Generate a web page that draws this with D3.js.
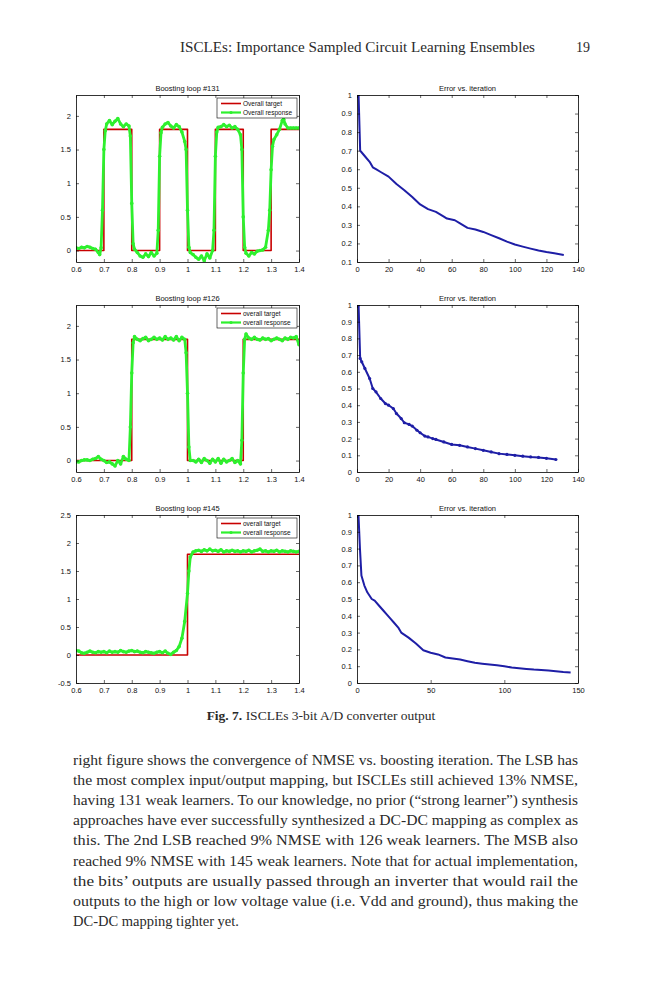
<!DOCTYPE html>
<html>
<head>
<meta charset="utf-8">
<script src="https://cdn.jsdelivr.net/npm/d3@7"></script>
<style>
  body { margin: 0; background: #fff; }
</style>
</head>
<body>
<div id="page"></div>
<script>
// ---- data ----

// targets: level starting at each edge (step after)
const lsbEdges = [0.6, 0.7, 0.8, 0.9, 1.0, 1.1, 1.2, 1.3, 1.4];
const lsbLevels = [0, 1.8, 0, 1.8, 0, 1.8, 0, 1.8, 1.8];
const lsb2Edges = [0.6, 0.8, 1.0, 1.2, 1.4];
const lsb2Levels = [0, 1.8, 0, 1.8, 1.8];
const msbEdges = [0.6, 1.0, 1.4];
const msbLevels = [0, 1.8, 1.8];

// overall response, loop #131 (LSB)
const resp131X = [0.60, 0.61, 0.62, 0.63, 0.64, 0.65, 0.66, 0.67, 0.68, 0.685, 0.69, 0.695, 0.70, 0.705, 0.71,
  0.72, 0.73, 0.74, 0.75, 0.76, 0.77, 0.78, 0.79, 0.795, 0.80, 0.805, 0.81, 0.82, 0.83, 0.84, 0.85, 0.86,
  0.87, 0.88, 0.89, 0.895, 0.90, 0.905, 0.91, 0.92, 0.93, 0.94, 0.95, 0.96, 0.97, 0.98, 0.99, 0.995, 1.00,
  1.005, 1.01, 1.02, 1.03, 1.04, 1.05, 1.06, 1.07, 1.08, 1.09, 1.095, 1.10, 1.105, 1.11, 1.12, 1.13, 1.14,
  1.15, 1.16, 1.17, 1.18, 1.19, 1.195, 1.20, 1.205, 1.21, 1.22, 1.23, 1.24, 1.25, 1.26, 1.27, 1.28, 1.29,
  1.295, 1.30, 1.305, 1.31, 1.32, 1.33, 1.34, 1.345, 1.35, 1.36, 1.37, 1.38, 1.39, 1.40];
const resp131Y = [0.04, 0.03, 0.05, 0.04, 0.06, 0.05, 0.03, 0.02, -0.03, -0.06, 0.04, 0.6, 1.5, 1.78, 1.88,
  1.93, 1.87, 1.92, 1.96, 1.88, 1.84, 1.88, 1.85, 1.7, 0.7, 0.1, 0.02, -0.03, -0.08, -0.1, -0.05, -0.09,
  -0.03, -0.08, -0.04, 0.3, 1.4, 1.75, 1.83, 1.88, 1.9, 1.85, 1.82, 1.87, 1.84, 1.76, 1.62, 1.5, 0.6,
  0.05, -0.03, -0.06, -0.1, -0.13, -0.08, -0.15, -0.05, -0.11, 0.0, 0.3, 1.4, 1.76, 1.83, 1.84, 1.87, 1.84,
  1.86, 1.82, 1.84, 1.8, 1.72, 1.5, 0.5, 0.05, -0.04, -0.08, -0.03, -0.05, -0.01, 0.0, 0.01, 0.05, 0.3,
  0.6, 1.2, 1.55, 1.65, 1.72, 1.8, 1.93, 1.95, 1.88, 1.82, 1.82, 1.82, 1.82, 1.82];

// overall response, loop #126 (2nd LSB)
const resp126X = [0.60, 0.61, 0.62, 0.63, 0.64, 0.65, 0.66, 0.67, 0.68, 0.69, 0.70, 0.71, 0.72, 0.73, 0.74,
  0.75, 0.76, 0.77, 0.78, 0.79, 0.795, 0.80, 0.805, 0.81, 0.82, 0.83, 0.84, 0.85, 0.86, 0.87, 0.88, 0.89,
  0.90, 0.91, 0.92, 0.93, 0.94, 0.95, 0.96, 0.97, 0.98, 0.99, 0.995, 1.00, 1.005, 1.01, 1.02, 1.03, 1.04,
  1.05, 1.06, 1.07, 1.08, 1.09, 1.10, 1.11, 1.12, 1.13, 1.14, 1.15, 1.16, 1.17, 1.18, 1.19, 1.195, 1.20,
  1.205, 1.21, 1.22, 1.23, 1.24, 1.25, 1.26, 1.27, 1.28, 1.29, 1.30, 1.31, 1.32, 1.33, 1.34, 1.35, 1.36,
  1.37, 1.38, 1.39, 1.40];
const resp126Y = [-0.02, -0.02, 0.0, 0.01, 0.01, 0.0, 0.02, 0.03, 0.06, 0.02, 0.0, -0.03, -0.02, -0.05, -0.08,
  0.0, -0.05, 0.06, 0.02, 0.0, 0.5, 1.3, 1.75, 1.84, 1.8, 1.78, 1.81, 1.83, 1.78, 1.8, 1.83, 1.8,
  1.82, 1.79, 1.84, 1.8, 1.82, 1.79, 1.84, 1.78, 1.83, 1.8, 1.6, 1.0, 0.2, 0.0, 0.0, -0.02, 0.02,
  -0.03, 0.03, 0.0, -0.04, 0.02, -0.02, 0.03, -0.04, 0.02, -0.02, 0.0, 0.03, -0.03, 0.0, -0.05, 0.3, 1.3,
  1.8, 1.88, 1.82, 1.8, 1.83, 1.8, 1.79, 1.82, 1.8, 1.81, 1.78, 1.8, 1.82, 1.8, 1.78, 1.82, 1.8,
  1.83, 1.82, 1.84, 1.72];

// overall response, loop #145 (MSB)
const resp145X = [0.60, 0.61, 0.62, 0.63, 0.64, 0.65, 0.66, 0.67, 0.68, 0.69, 0.70, 0.71, 0.72, 0.73, 0.74,
  0.75, 0.76, 0.77, 0.78, 0.79, 0.80, 0.81, 0.82, 0.83, 0.84, 0.85, 0.86, 0.87, 0.88, 0.89, 0.90, 0.91,
  0.92, 0.93, 0.94, 0.95, 0.96, 0.97, 0.98, 0.99, 1.00, 1.005, 1.01, 1.02, 1.03, 1.04, 1.05, 1.06, 1.07,
  1.08, 1.09, 1.10, 1.11, 1.12, 1.13, 1.14, 1.15, 1.16, 1.17, 1.18, 1.19, 1.20, 1.21, 1.22, 1.23, 1.24,
  1.25, 1.26, 1.27, 1.28, 1.29, 1.30, 1.31, 1.32, 1.33, 1.34, 1.35, 1.36, 1.37, 1.38, 1.39, 1.40];
const resp145Y = [0.08, 0.07, 0.04, 0.03, 0.05, 0.07, 0.05, 0.04, 0.06, 0.05, 0.06, 0.04, 0.07, 0.05, 0.06,
  0.05, 0.08, 0.06, 0.05, 0.07, 0.08, 0.06, 0.07, 0.05, 0.04, 0.06, 0.05, 0.04, 0.03, 0.05, 0.06, 0.04,
  0.07, 0.03, 0.01, 0.05, 0.08, 0.15, 0.3, 0.6, 1.1, 1.5, 1.75, 1.84, 1.86, 1.87, 1.85, 1.88, 1.86,
  1.89, 1.86, 1.87, 1.85, 1.88, 1.84, 1.86, 1.85, 1.87, 1.85, 1.86, 1.84, 1.86, 1.85, 1.87, 1.84, 1.86,
  1.87, 1.89, 1.85, 1.86, 1.84, 1.86, 1.85, 1.87, 1.84, 1.86, 1.85, 1.84, 1.86, 1.85, 1.84, 1.85];

// error vs iteration
const err131X = [1, 2, 3, 5, 8, 10, 12, 15, 20, 25, 30, 35, 40, 45, 50, 55, 57, 62, 65, 70, 75, 80, 85, 90,
  95, 100, 105, 110, 115, 120, 125, 131];
const err131Y = [1.0, 0.7, 0.69, 0.67, 0.64, 0.61, 0.6, 0.585, 0.56, 0.52, 0.487, 0.45, 0.41, 0.385, 0.37,
  0.345, 0.334, 0.325, 0.31, 0.284, 0.275, 0.262, 0.245, 0.228, 0.21, 0.194, 0.183, 0.172, 0.162, 0.154,
  0.147, 0.138];

const err126X = [1, 2, 3, 5, 8, 10, 12, 15, 18, 20, 23, 25, 28, 30, 33, 35, 38, 40, 43, 45, 48, 50, 55, 60,
  65, 70, 75, 80, 85, 90, 95, 100, 105, 110, 115, 120, 126];
const err126Y = [1.0, 0.68, 0.66, 0.62, 0.56, 0.5, 0.48, 0.44, 0.41, 0.4, 0.38, 0.35, 0.32, 0.295, 0.285,
  0.275, 0.25, 0.235, 0.215, 0.21, 0.2, 0.195, 0.18, 0.165, 0.16, 0.15, 0.14, 0.13, 0.12, 0.11, 0.105,
  0.1, 0.095, 0.09, 0.087, 0.082, 0.075];

const err145X = [1, 2, 3, 5, 7, 10, 12, 15, 18, 20, 23, 25, 28, 30, 35, 40, 45, 50, 55, 60, 65, 70, 75, 80,
  85, 90, 95, 100, 105, 110, 115, 120, 125, 130, 135, 140, 145];
const err145Y = [1.0, 0.8, 0.64, 0.58, 0.54, 0.5, 0.49, 0.46, 0.43, 0.41, 0.38, 0.36, 0.33, 0.3, 0.27,
  0.235, 0.195, 0.18, 0.17, 0.152, 0.146, 0.14, 0.13, 0.12, 0.115, 0.11, 0.105, 0.1, 0.092, 0.088,
  0.084, 0.08, 0.077, 0.074, 0.07, 0.066, 0.063];

// tick values
const inputTicks = [0.6, 0.7, 0.8, 0.9, 1.0, 1.1, 1.2, 1.3, 1.4];
const outTicks = [0, 0.5, 1, 1.5, 2];
const outTicksMsb = [-0.5, 0, 0.5, 1, 1.5, 2, 2.5];
const iterTicks140 = [0, 20, 40, 60, 80, 100, 120, 140];
const iterTicks150 = [0, 50, 100, 150];
const errTicksTop = [0.1, 0.2, 0.3, 0.4, 0.5, 0.6, 0.7, 0.8, 0.9, 1];
const errTicks = [0, 0.1, 0.2, 0.3, 0.4, 0.5, 0.6, 0.7, 0.8, 0.9, 1];

// page texts
const runningHead = "ISCLEs: Importance Sampled Circuit Learning Ensembles";
const pageNumber = "19";
const captionLabel = "Fig. 7.";
const captionText = "ISCLEs 3-bit A/D converter output";
const bodyLines = [
  "right figure shows the convergence of NMSE vs. boosting iteration. The LSB has",
  "the most complex input/output mapping, but ISCLEs still achieved 13% NMSE,",
  "having 131 weak learners. To our knowledge, no prior (\u201cstrong learner\u201d) synthesis",
  "approaches have ever successfully synthesized a DC-DC mapping as complex as",
  "this. The 2nd LSB reached 9% NMSE with 126 weak learners. The MSB also",
  "reached 9% NMSE with 145 weak learners. Note that for actual implementation,",
  "the bits\u2019 outputs are usually passed through an inverter that would rail the",
  "outputs to the high or low voltage value (i.e. Vdd and ground), thus making the",
  "DC-DC mapping tighter yet."
];

// ---- layout ----
const W = 651, H = 1000;
const leftCol = [76, 299], rightCol = [357, 578];
const rows = [[95, 262], [305, 472], [515, 683]];
const GREEN = '#2ef02e', RED = '#c80000', BLUE = '#1e1ea6';
const tickFont = '"Liberation Sans", Arial, sans-serif';
const serif = '"Liberation Serif", "DejaVu Serif", serif';
const INK = '#2a2a2a';

const svg = d3.select('#page').append('svg')
  .attr('width', W).attr('height', H)
  .attr('viewBox', `0 0 ${W} ${H}`);
svg.append('rect').attr('width', W).attr('height', H).attr('fill', '#fff');

const fmt = d => String(+d.toFixed(2));
let clipId = 0;

function drawPanel(p) {
  const [x0, x1] = p.col, [y0, y1] = p.row;
  const x = d3.scaleLinear(p.xDomain, [x0, x1]);
  const y = d3.scaleLinear(p.yDomain, [y1, y0]);
  const g = svg.append('g');

  const id = 'clip' + (clipId++);
  g.append('clipPath').attr('id', id)
    .append('rect').attr('x', x0).attr('y', y0).attr('width', x1 - x0).attr('height', y1 - y0);
  const plot = g.append('g').attr('clip-path', `url(#${id})`);

  // series
  p.series.forEach(s => {
    const pts = s.x.map((v, i) => [v, s.y[i]]);
    const line = d3.line().x(d => x(d[0])).y(d => y(d[1]))
      .curve(s.step ? d3.curveStepAfter : d3.curveLinear);
    plot.append('path').datum(pts)
      .attr('fill', 'none').attr('stroke', s.color)
      .attr('stroke-width', s.width).attr('stroke-linejoin', 'round')
      .attr('d', line);
    if (s.marker) {
      plot.selectAll(null).data(pts).join('circle')
        .attr('cx', d => x(d[0])).attr('cy', d => y(d[1]))
        .attr('r', s.marker).attr('fill', s.color);
    }
  });

  // axes, MATLAB style: box with inward ticks on all sides
  const axes = [
    [d3.axisBottom(x).tickValues(p.xTicks).tickFormat(fmt), `translate(0,${y1})`],
    [d3.axisTop(x).tickValues(p.xTicks).tickFormat(''), `translate(0,${y0})`],
    [d3.axisLeft(y).tickValues(p.yTicks).tickFormat(fmt), `translate(${x0},0)`],
    [d3.axisRight(y).tickValues(p.yTicks).tickFormat(''), `translate(${x1},0)`]
  ];
  axes.forEach(([ax, tr]) => {
    const a = g.append('g').attr('transform', tr)
      .call(ax.tickSizeInner(-3).tickSizeOuter(0).tickPadding(5));
    a.select('.domain').attr('stroke', '#000').attr('stroke-width', 0.8);
    a.selectAll('.tick line').attr('stroke', '#000').attr('stroke-width', 0.6);
    a.selectAll('.tick text')
      .attr('font-family', tickFont).attr('font-size', 7.5).attr('fill', '#111');
  });

  g.append('text')
    .attr('x', (x0 + x1) / 2).attr('y', y0 - 4)
    .attr('text-anchor', 'middle')
    .attr('font-family', tickFont).attr('font-size', 7.5).attr('fill', '#111')
    .text(p.title);

  if (p.legend) {
    const lw = 80, lh = 20, lx = x1 - lw - 2, ly = y0 + 3;
    const lg = g.append('g');
    lg.append('rect').attr('x', lx).attr('y', ly).attr('width', lw).attr('height', lh)
      .attr('fill', '#fff').attr('stroke', '#000').attr('stroke-width', 0.6);
    p.legend.forEach((item, i) => {
      const yy = ly + 5.5 + i * 9;
      lg.append('line').attr('x1', lx + 4).attr('x2', lx + 24).attr('y1', yy).attr('y2', yy)
        .attr('stroke', item.color).attr('stroke-width', item.width);
      if (item.marker) {
        lg.append('circle').attr('cx', lx + 14).attr('cy', yy).attr('r', item.marker)
          .attr('fill', item.color);
      }
      lg.append('text').attr('x', lx + 26).attr('y', yy + 2.3)
        .attr('font-family', tickFont).attr('font-size', 6.5).attr('fill', '#111')
        .text(item.label);
    });
  }
}

function respPanel(row, title, edges, levels, rx, ry, yDomain, yTicks, upper) {
  drawPanel({
    col: leftCol, row, title,
    xDomain: [0.6, 1.4], yDomain, xTicks: inputTicks, yTicks,
    series: [
      { x: edges, y: levels, step: true, color: RED, width: 1.6 },
      { x: rx, y: ry, color: GREEN, width: 2.8, marker: 1.8 }
    ],
    legend: [
      { label: upper ? 'Overall target' : 'overall target', color: RED, width: 1.6 },
      { label: upper ? 'Overall response' : 'overall response', color: GREEN, width: 2.2, marker: 1.6 }
    ]
  });
}

function errPanel(row, ex, ey, xMax, xTicks, yDomain, yTicks, marker) {
  drawPanel({
    col: rightCol, row, title: 'Error vs. iteration',
    xDomain: [0, xMax], yDomain, xTicks, yTicks,
    series: [{ x: ex, y: ey, color: BLUE, width: 2, marker }]
  });
}

respPanel(rows[0], 'Boosting loop #131', lsbEdges, lsbLevels, resp131X, resp131Y, [-0.17, 2.31], outTicks, true);
errPanel(rows[0], err131X, err131Y, 140, iterTicks140, [0.1, 1], errTicksTop, 0);
respPanel(rows[1], 'Boosting loop #126', lsb2Edges, lsb2Levels, resp126X, resp126Y, [-0.17, 2.31], outTicks, false);
errPanel(rows[1], err126X, err126Y, 140, iterTicks140, [0, 1], errTicks, 1.6);
respPanel(rows[2], 'Boosting loop #145', msbEdges, msbLevels, resp145X, resp145Y, [-0.5, 2.5], outTicksMsb, false);
errPanel(rows[2], err145X, err145Y, 150, iterTicks150, [0, 1], errTicks, 0);

// ---- page text ----
const textLeft = 73, textRight = 578;

svg.append('text')
  .attr('x', 180).attr('y', 52)
  .attr('font-family', serif).attr('font-size', 14).attr('fill', INK)
  .attr('textLength', 355).attr('lengthAdjust', 'spacingAndGlyphs')
  .text(runningHead);
svg.append('text')
  .attr('x', 590).attr('y', 52).attr('text-anchor', 'end')
  .attr('font-family', serif).attr('font-size', 14).attr('fill', INK)
  .text(pageNumber);

const cap = svg.append('text')
  .attr('x', 321).attr('y', 720).attr('text-anchor', 'middle')
  .attr('font-family', serif).attr('font-size', 13.5).attr('fill', INK);
cap.append('tspan').attr('font-weight', 'bold').text(captionLabel + ' ');
cap.append('tspan').text(captionText);

bodyLines.forEach((line, i) => {
  const t = svg.append('text')
    .attr('x', textLeft).attr('y', 765 + i * 20.1)
    .attr('font-family', serif).attr('font-size', 14.5).attr('fill', INK)
    .text(line);
  if (i < bodyLines.length - 1) {
    t.attr('textLength', textRight - textLeft).attr('lengthAdjust', 'spacingAndGlyphs');
  }
});
</script>
</body>
</html>
